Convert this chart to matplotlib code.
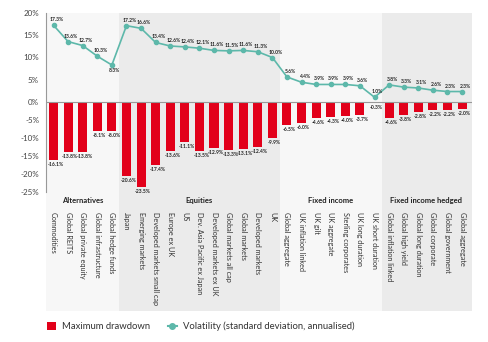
import numpy as np
import matplotlib
matplotlib.use("Agg")
import matplotlib.pyplot as plt
from matplotlib.patches import Rectangle
from matplotlib.lines import Line2D
import matplotlib.transforms as mtransforms

plt.rcParams['font.family'] = ['Lato', 'DejaVu Sans']

groups = ["Alternatives", "Equities", "Fixed income", "Fixed income hedged"]
group_sizes = [5, 11, 7, 6]
categories = [
    "Commodities", "Global REITS", "Global private equity", "Global infrastructure", "Global hedge funds",
    "Japan", "Emerging markets", "Developed markets small cap", "Europe ex UK", "US",
    "Dev. Asia Pacific ex Japan", "Developed markets ex UK", "Global markets all cap", "Global markets",
    "Developed markets", "UK",
    "Global aggregate", "UK inflation linked", "UK gilt", "UK aggregate", "Sterling corporates",
    "UK long duration", "UK short duration",
    "Global inflation linked", "Global high yield", "Global long duration", "Global corporate",
    "Global government", "Global aggregate",
]
volatility = [17.3, 13.6, 12.7, 10.3, 8.3,
              17.2, 16.6, 13.4, 12.6, 12.4, 12.1, 11.6, 11.5, 11.6, 11.3, 10.0,
              5.6, 4.4, 3.9, 3.9, 3.9, 3.6, 1.0,
              3.8, 3.3, 3.1, 2.6, 2.3, 2.3]
drawdown = [-16.1, -13.8, -13.8, -8.1, -8.0,
            -20.6, -23.5, -17.4, -13.6, -11.1, -13.5, -12.9, -13.3, -13.1, -12.4, -9.9,
            -6.5, -6.0, -4.6, -4.3, -4.0, -3.7, -0.3,
            -4.6, -3.8, -2.8, -2.2, -2.2, -2.0]
yticks = [20, 15, 10, 5, 0, -5, -10, -15, -20, -25]

RED = '#e2001a'
TEAL = '#5db8aa'
R = 4.42 / 3.624

def fwd(y):
    y = np.asarray(y, dtype=float)
    return np.where(y > 0, y * R, y)

def inv(y):
    y = np.asarray(y, dtype=float)
    return np.where(y > 0, y / R, y)

fig = plt.figure(figsize=(4.88, 3.42), dpi=100)
fig.patch.set_facecolor('white')
ax = fig.add_axes([46/488, 1 - 192.3/342, (472-46)/488, (192.3-13.3)/342])
ax.patch.set_visible(False)
ax.set_yscale('function', functions=(fwd, inv))
x = np.arange(len(categories))
ax.set_xlim(-0.514, 28.68)
ax.set_ylim(-25, 20)

# group panels
trans = mtransforms.blended_transform_factory(ax.transData, ax.transAxes)
panel_colors = ['#f7f7f7', '#ebebeb', '#f7f7f7', '#ebebeb']
start = 0
bottom = -0.663
for i, (g, n) in enumerate(zip(groups, group_sizes)):
    left = -0.514 if i == 0 else start - 0.5
    right = 28.68 if i == len(groups) - 1 else start + n - 0.5
    ax.add_patch(Rectangle((left, bottom), right - left, 1 - bottom, transform=trans,
                           facecolor=panel_colors[i], edgecolor='none', clip_on=False, zorder=0))
    ax.text(start + (n - 1) / 2, -0.0486, g, transform=trans, ha='center', va='center',
            fontsize=5.5, fontweight='bold', color='#222222')
    start += n

for xi, c in zip(x, categories):
    ax.text(xi, -0.11, c, transform=trans, rotation=270, ha='center', va='top',
            fontsize=5.2, color='#333333')

ax.bar(x, drawdown, width=0.62, color=RED, zorder=2)
ax.axhline(0, color='#999999', lw=0.8, zorder=3)
ax.plot(x, volatility, color=TEAL, lw=1.2, marker='o', markersize=3, zorder=4)

for xi, v in zip(x, volatility):
    off = -5 if v == 8.3 else 5.5
    ax.annotate(f"{v:.1f}%", (xi, v), xytext=(3, off), textcoords='offset pixels',
                ha='center', va='center', fontsize=3.6, fontweight='bold', color='#222222', zorder=5)
for xi, d in zip(x, drawdown):
    ax.annotate(f"{d:.1f}%", (xi, d), xytext=(2, -4.5), textcoords='offset pixels',
                ha='center', va='center', fontsize=3.6, fontweight='bold', color='#222222', zorder=5)

ax.set_yticks(yticks)
ax.set_yticklabels([f"{t}%" for t in yticks], fontsize=5.8, color='#444444')
ax.tick_params(axis='y', length=0, pad=5)
ax.set_xticks([])
for s in ['top', 'right', 'bottom']:
    ax.spines[s].set_visible(False)
ax.spines['left'].set_color('#999999')
ax.spines['left'].set_linewidth(0.8)
ax.spines['left'].set_zorder(3)

handles = [Rectangle((0, 0), 1, 1, facecolor=RED, edgecolor='none'),
           Line2D([0], [0], color=TEAL, lw=1.5, marker='o', markersize=4)]
fig.legend(handles, ["Maximum drawdown", "Volatility (standard deviation, annualised)"],
           loc='center left', bbox_to_anchor=(38/488, 1 - 326.5/342), ncol=2, frameon=False,
           fontsize=6.8, handlelength=1.0, handleheight=1.0, handletextpad=0.6,
           columnspacing=1.9, labelcolor='#333333')

fig.savefig('out.png', dpi=100, facecolor='white')
